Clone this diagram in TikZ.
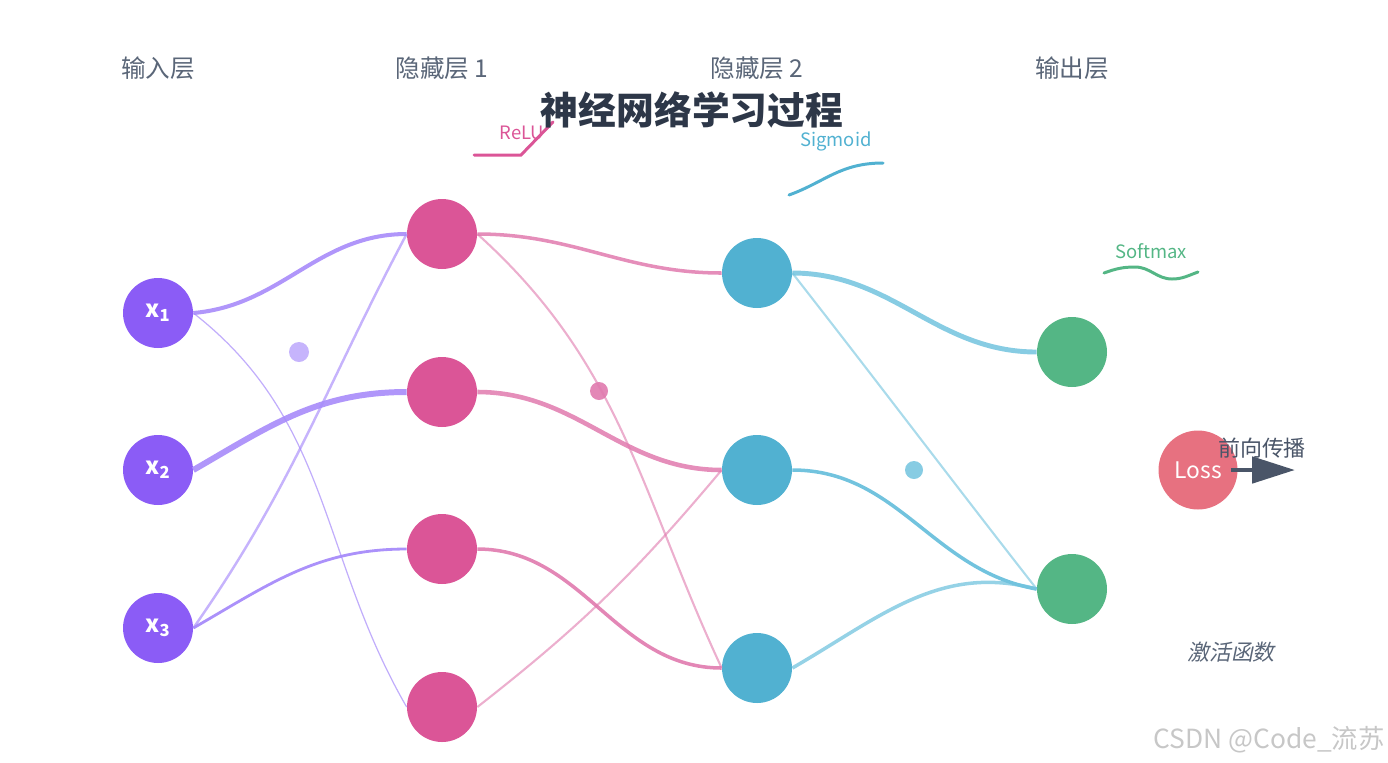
\documentclass[tikz,border=0pt]{standalone}
\usepackage{fontspec}
\setmainfont{Noto Sans CJK SC}
\newfontfamily\slantcjk[FakeSlant=0.2]{Noto Sans CJK SC}
\usetikzlibrary{arrows.meta}
\definecolor{inpurple}{HTML}{8B5CF6}
\definecolor{linpurple}{HTML}{A78BFA}
\definecolor{hidpink}{HTML}{DB5597}
\definecolor{linpink}{HTML}{E07AAE}
\definecolor{hidblue}{HTML}{51B1D1}
\definecolor{linblue}{HTML}{72C3DE}
\definecolor{outgreen}{HTML}{54B685}
\definecolor{lossred}{HTML}{E77180}
\definecolor{darktext}{HTML}{2D3748}
\definecolor{graytext}{HTML}{5A6678}
\definecolor{arrowgray}{HTML}{4A5568}

\begin{document}
\begin{tikzpicture}[x=0.02cm, y=0.02cm,
  neuron/.style={circle, minimum size=1.4cm, inner sep=0pt, text=white},
  inp/.style={neuron, fill=inpurple, font=\bfseries\fontsize{13.5}{13.5}\selectfont},
  hid/.style={neuron, fill=hidpink},
  hidb/.style={neuron, fill=hidblue},
  outp/.style={neuron, fill=outgreen},
  layer/.style={text=graytext, font=\fontsize{14}{14}\selectfont},
  blob/.style={circle, inner sep=0pt, minimum size=#1},
  wp/.style={draw=linpurple, line width=#1},
  wk/.style={draw=linpink, line width=#1},
  wb/.style={draw=linblue, line width=#1},
  act/.style={line width=1.7pt, line cap=round},
  tag/.style={font=\fontsize{10.5}{10.5}\selectfont}]
\useasboundingbox (0,0) rectangle (1388,-762);

\node[layer] (lin) at (158,-68) {输入层};
\node[layer] (lh1) at (442,-68) {隐藏层 1};
\node[layer] (lh2) at (757,-68) {隐藏层 2};
\node[layer] (lout) at (1072,-68) {输出层};

\draw[act, draw=hidpink] (474,-155) -- (521,-155) -- (553,-122);
\node[tag, text=hidpink] (trelu) at (522,-133) {ReLU};
\node[font=\bfseries\fontsize{21.5}{21.5}\selectfont, text=darktext] (title) at (692,-110) {神经网络学习过程};
\draw[act, draw=hidblue] (789,-195) .. controls (825,-182) and (840,-163) .. (883,-163);
\node[tag, text=hidblue] (tsig) at (836,-141) {Sigmoid};
\draw[act, draw=outgreen] (1104,-273) to[out=20,in=180] (1135,-267) to[out=0,in=180] (1172,-279) to[out=0,in=200] (1198,-272);
\node[tag, text=outgreen] (tsoft) at (1151,-251) {Softmax};

\node[inp] (x1) at (158,-313) {x\textsubscript{1}};
\node[inp] (x2) at (158,-470) {x\textsubscript{2}};
\node[inp] (x3) at (158,-628) {x\textsubscript{3}};
\node[hid] (h1) at (442,-234) {};
\node[hid] (h2) at (442,-392) {};
\node[hid] (h3) at (442,-549) {};
\node[hid] (h4) at (442,-707) {};
\node[hidb] (g1) at (757,-273) {};
\node[hidb] (g2) at (757,-470) {};
\node[hidb] (g3) at (757,-668) {};
\node[outp] (o1) at (1072,-352) {};
\node[outp] (o2) at (1072,-589) {};
\node[blob=0.4cm, fill=linpurple!65] (ba) at (299,-352) {};
\node[blob=0.36cm, fill=linpink!90] (bb) at (599,-391) {};
\node[blob=0.36cm, fill=linblue!85] (bc) at (914,-470) {};

\draw[wp=2.3pt, draw opacity=.9] (x1.east) to[out=5,in=180] (h1.west);
\draw[wp=0.7pt, draw opacity=.7] (x1.east) to[out=-38,in=120] (h4.west);
\draw[wp=3.4pt, draw opacity=.9] (x2.east) to[out=30,in=180] (h2.west);
\draw[wp=1.4pt, draw opacity=.65] (x3.east) to[out=55,in=-118] (h1.west);
\draw[wp=1.6pt, draw opacity=.95] (x3.east) to[out=30,in=180] (h3.west);

\draw[wk=2pt, draw opacity=.85] (h1.east) to[out=0,in=180] (g1.west);
\draw[wk=1.2pt, draw opacity=.6] (h1.east) to[out=-42,in=115] (g3.west);
\draw[wk=2.6pt, draw opacity=.85] (h2.east) to[out=0,in=180] (g2.west);
\draw[wk=2pt, draw opacity=.9] (h3.east) to[out=0,in=180] (g3.west);
\draw[wk=1.2pt, draw opacity=.6] (h4.east) to[out=38,in=-130] (g2.west);

\draw[wb=2.8pt, draw opacity=.85] (g1.east) to[out=0,in=180] (o1.west);
\draw[wb=1.2pt, draw opacity=.6] (g1.east) to[out=-52,in=128] (o2.west);
\draw[wb=2pt, draw opacity=1] (g2.east) to[out=0,in=170] (o2.west);
\draw[wb=2pt, draw opacity=.75] (g3.east) to[out=30,in=165] (o2.west);

\node[neuron, minimum size=1.58cm, fill=lossred, font=\fontsize{13}{13}\selectfont] (loss) at (1198,-470) {Loss};
\coordinate (fwdend) at (1295,-470);
\draw[draw=arrowgray, line width=2.8pt, -{Triangle[length=0.86cm, width=0.52cm]}] ([xshift=-0.14cm]loss.east) -- (fwdend);
\node[text=arrowgray, font=\fontsize{12.5}{12.5}\selectfont] (tfwd) at (1262,-448) {前向传播};
\node[text=graytext, font=\slantcjk\fontsize{12.5}{12.5}\selectfont] (tact) at (1231,-652) {激活函数};
\node[text=black!22, font=\fontsize{15}{15}\selectfont] (mark) at (1269,-740) {CSDN @Code\_流苏};
\end{tikzpicture}
\end{document}
